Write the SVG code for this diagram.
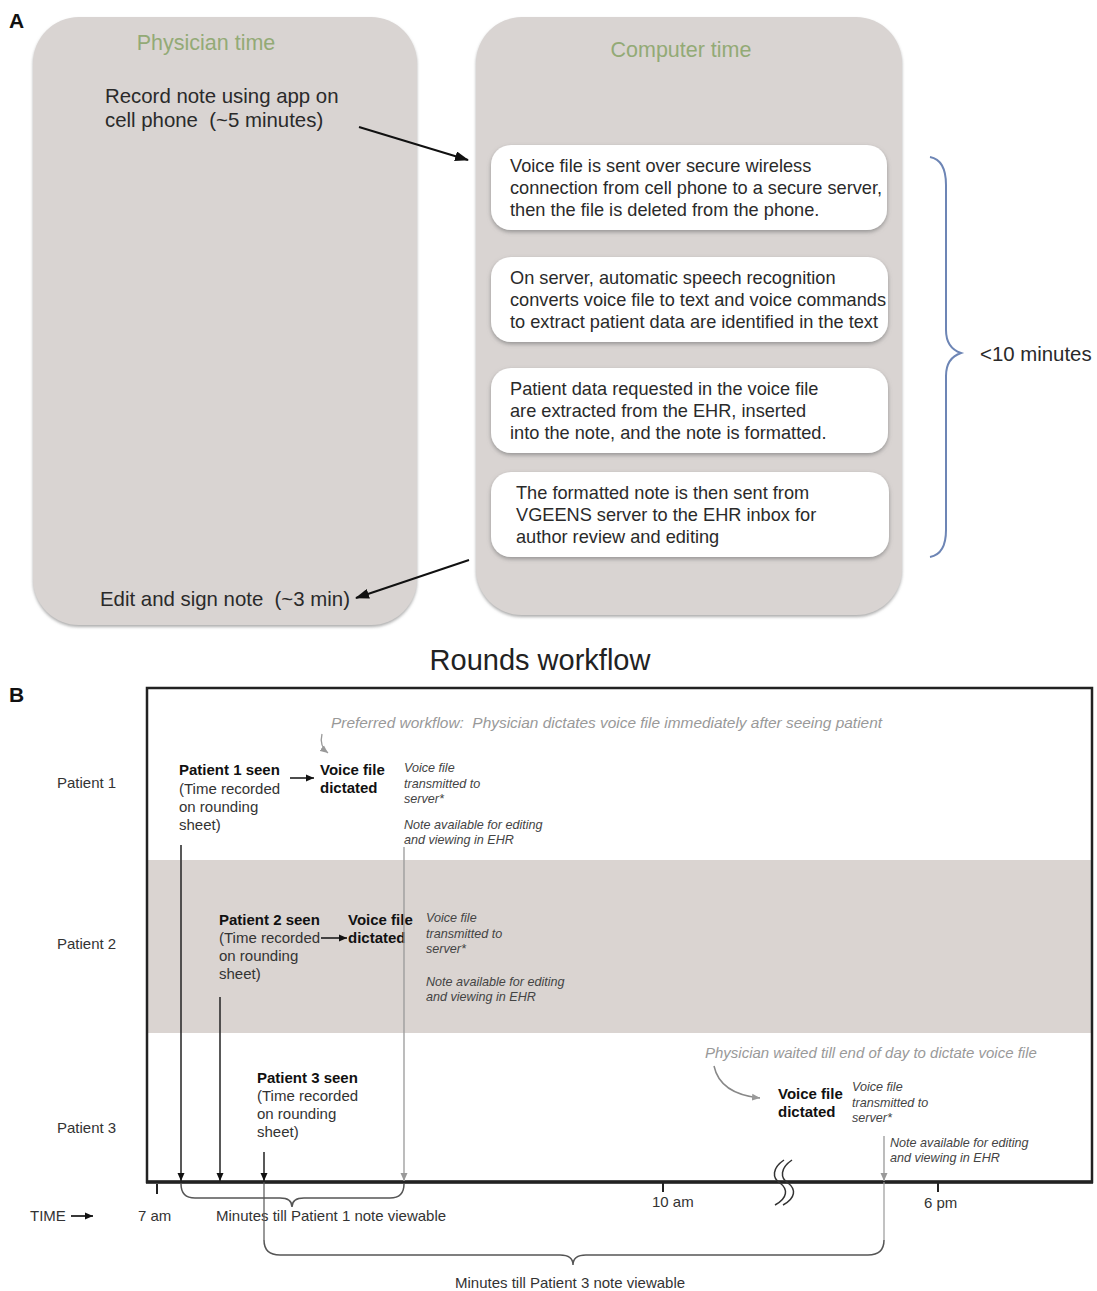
<svg xmlns="http://www.w3.org/2000/svg" width="1097" height="1291" viewBox="0 0 1097 1291">
<style>
text{font-family:"Liberation Sans",Arial,sans-serif;fill:#222}
.big{font-size:20.4px;fill:#2a2a2a}
.box{font-size:18.2px;fill:#2a2a2a}
.hdr{font-size:21.5px;fill:#93aa76}
.lbl{font-size:15px;fill:#333}
.b{font-size:15px;font-weight:bold;fill:#111}
.r{font-size:15px;fill:#333}
.sm{font-size:12.6px;font-style:italic;fill:#444}
.gi{font-size:15px;font-style:italic;fill:#999}
.panel{fill:#d9d4d2}
.wbox{fill:#fff}
</style>
<defs>
<filter id="sh" x="-10%" y="-10%" width="120%" height="130%">
<feDropShadow dx="0" dy="2" stdDeviation="2" flood-color="#777" flood-opacity="0.7"/>
</filter>
<filter id="psh" x="-10%" y="-10%" width="120%" height="120%">
<feDropShadow dx="0" dy="2" stdDeviation="1.5" flood-color="#999" flood-opacity="0.8"/>
</filter>
<marker id="ab" markerUnits="userSpaceOnUse" markerWidth="14" markerHeight="10" refX="13" refY="5" orient="auto">
<path d="M0,0 L14,5 L0,10 Z" fill="#111"/>
</marker>
<marker id="abs" markerUnits="userSpaceOnUse" markerWidth="8" markerHeight="8" refX="8" refY="4" orient="auto">
<path d="M0,0.5 L8,4 L0,7.5 Z" fill="#111"/>
</marker>
<marker id="ag" markerUnits="userSpaceOnUse" markerWidth="8" markerHeight="8" refX="8" refY="4" orient="auto">
<path d="M0,0.5 L8,4 L0,7.5 Z" fill="#999"/>
</marker>
</defs>
<rect width="1097" height="1291" fill="#fff"/>

<!-- Panel A -->
<text x="9" y="28" style="font-size:21px;font-weight:bold;fill:#111">A</text>
<g id="physician-panel">
<rect class="panel" x="33" y="17" width="384" height="608" rx="46" filter="url(#psh)"/>
<text class="hdr" x="206" y="50" text-anchor="middle">Physician time</text>
</g>
<g id="record-note">
<text class="big" x="105" y="103" xml:space="preserve">Record note using app on</text>
<text class="big" x="105" y="127" xml:space="preserve">cell phone  (~5 minutes)</text>
</g>
<g id="edit-note">
<text class="big" x="100" y="606" xml:space="preserve">Edit and sign note  (~3 min)</text>
</g>
<g id="computer-panel">
<rect class="panel" x="476" y="17" width="426" height="598" rx="46" filter="url(#psh)"/>
<text class="hdr" x="681" y="57" text-anchor="middle">Computer time</text>
</g>
<g id="step1">
<rect class="wbox" x="491" y="145" width="396" height="85" rx="20" filter="url(#sh)"/>
<text class="box" x="510" y="172">Voice file is sent over secure wireless</text>
<text class="box" x="510" y="194">connection from cell phone to a secure server,</text>
<text class="box" x="510" y="216">then the file is deleted from the phone.</text>
</g>
<g id="step2">
<rect class="wbox" x="491" y="257" width="397" height="85" rx="20" filter="url(#sh)"/>
<text class="box" x="510" y="284">On server, automatic speech recognition</text>
<text class="box" x="510" y="306">converts voice file to text and voice commands</text>
<text class="box" x="510" y="328">to extract patient data are identified in the text</text>
</g>
<g id="step3">
<rect class="wbox" x="491" y="368" width="397" height="85" rx="20" filter="url(#sh)"/>
<text class="box" x="510" y="395">Patient data requested in the voice file</text>
<text class="box" x="510" y="417">are extracted from the EHR, inserted</text>
<text class="box" x="510" y="439">into the note, and the note is formatted.</text>
</g>
<g id="step4">
<rect class="wbox" x="491" y="472" width="398" height="85" rx="20" filter="url(#sh)"/>
<text class="box" x="516" y="499">The formatted note is then sent from</text>
<text class="box" x="516" y="521">VGEENS server to the EHR inbox for</text>
<text class="box" x="516" y="543">author review and editing</text>
</g>
<g id="ten-minutes">
<path d="M930,157 Q946,160 946,185 L946,330 Q946,348 961,353 Q946,358 946,376 L946,530 Q946,554 930,557" fill="none" stroke="#6d85b5" stroke-width="2"/>
<text class="big" x="980" y="361">&lt;10 minutes</text>
</g>

<!-- Panel B -->
<text x="540" y="670" text-anchor="middle" style="font-size:29px;fill:#222">Rounds workflow</text>
<text x="9" y="702" style="font-size:21px;font-weight:bold;fill:#111">B</text>
<g id="frame">
<rect x="147" y="860" width="945" height="173" fill="#dad4d1"/>
<rect x="147" y="688" width="945" height="494" fill="none" stroke="#222" stroke-width="2.5"/>
<line x1="146" y1="1182" x2="1093" y2="1182" stroke="#222" stroke-width="3.5"/>
</g>
<g id="row-labels">
<text class="lbl" x="57" y="788">Patient 1</text>
<text class="lbl" x="57" y="949">Patient 2</text>
<text class="lbl" x="57" y="1133">Patient 3</text>
</g>
<g id="preferred-note">
<text class="gi" x="331" y="728" textLength="551" lengthAdjust="spacingAndGlyphs" xml:space="preserve">Preferred workflow:  Physician dictates voice file immediately after seeing patient</text>
</g>
<g id="p1-seen">
<text class="b" x="179" y="775">Patient 1 seen</text>
<text class="r" x="179" y="794">(Time recorded</text>
<text class="r" x="179" y="812">on rounding</text>
<text class="r" x="179" y="830">sheet)</text>
</g>
<g id="p1-dictated">
<text class="b" x="320" y="775">Voice file</text>
<text class="b" x="320" y="793">dictated</text>
</g>
<g id="p1-server">
<text class="sm" x="404" y="772">Voice file</text>
<text class="sm" x="404" y="788">transmitted to</text>
<text class="sm" x="404" y="803">server*</text>
<text class="sm" x="404" y="829">Note available for editing</text>
<text class="sm" x="404" y="844">and viewing in EHR</text>
</g>
<g id="p2-seen">
<text class="b" x="219" y="925">Patient 2 seen</text>
<text class="r" x="219" y="943">(Time recorded</text>
<text class="r" x="219" y="961">on rounding</text>
<text class="r" x="219" y="979">sheet)</text>
</g>
<g id="p2-dictated">
<text class="b" x="348" y="925">Voice file</text>
<text class="b" x="348" y="943">dictated</text>
</g>
<g id="p2-server">
<text class="sm" x="426" y="922">Voice file</text>
<text class="sm" x="426" y="938">transmitted to</text>
<text class="sm" x="426" y="953">server*</text>
<text class="sm" x="426" y="986">Note available for editing</text>
<text class="sm" x="426" y="1001">and viewing in EHR</text>
</g>
<g id="p3-seen">
<text class="b" x="257" y="1083">Patient 3 seen</text>
<text class="r" x="257" y="1101">(Time recorded</text>
<text class="r" x="257" y="1119">on rounding</text>
<text class="r" x="257" y="1137">sheet)</text>
</g>
<g id="waited-note">
<text class="gi" x="705" y="1058">Physician waited till end of day to dictate voice file</text>
</g>
<g id="p3-dictated">
<text class="b" x="778" y="1099">Voice file</text>
<text class="b" x="778" y="1117">dictated</text>
</g>
<g id="p3-server">
<text class="sm" x="852" y="1091">Voice file</text>
<text class="sm" x="852" y="1107">transmitted to</text>
<text class="sm" x="852" y="1122">server*</text>
<text class="sm" x="890" y="1147">Note available for editing</text>
<text class="sm" x="890" y="1162">and viewing in EHR</text>
</g>
<g id="axis">
<line x1="157" y1="1184" x2="157" y2="1194" stroke="#222" stroke-width="2"/>
<line x1="663" y1="1182" x2="663" y2="1192" stroke="#222" stroke-width="2"/>
<line x1="938" y1="1182" x2="938" y2="1192" stroke="#222" stroke-width="2"/>
<text class="r" x="30" y="1221">TIME</text>
<line x1="71" y1="1216" x2="93" y2="1216" stroke="#222" stroke-width="1.8" marker-end="url(#abs)"/>
<text class="r" x="138" y="1221">7 am</text>
<text class="r" x="652" y="1207">10 am</text>
<text class="r" x="924" y="1208">6 pm</text>
<path d="M784,1160 C772,1168 772,1178 780,1183 C788,1189 788,1198 775,1205" fill="none" stroke="#333" stroke-width="1.5"/>
<path d="M792,1160 C780,1168 780,1178 788,1183 C796,1189 796,1198 783,1205" fill="none" stroke="#333" stroke-width="1.5"/>
</g>
<g id="brace-p1">
<path d="M181,1184 Q181,1198 195,1198 L280,1198 Q292,1198 292,1207 Q292,1198 304,1198 L390,1198 Q404,1198 404,1184" fill="none" stroke="#555" stroke-width="1.5"/>
<text class="r" x="216" y="1221">Minutes till Patient 1 note viewable</text>
</g>
<g id="brace-p3">
<path d="M264,1240 Q264,1255 280,1255 L560,1255 Q573,1255 573,1265 Q573,1255 586,1255 L868,1255 Q884,1255 884,1240" fill="none" stroke="#555" stroke-width="1.5"/>
<text class="r" x="455" y="1288">Minutes till Patient 3 note viewable</text>
</g>

<!-- connectors -->
<g id="connectors" fill="none">
<line x1="359" y1="127" x2="468" y2="160" stroke="#111" stroke-width="2" marker-end="url(#ab)"/>
<line x1="469" y1="560" x2="356" y2="598" stroke="#111" stroke-width="2" marker-end="url(#ab)"/>
<path d="M322,734 Q319,746 328,753" stroke="#999" stroke-width="1.3" marker-end="url(#ag)"/>
<line x1="290" y1="778" x2="314" y2="778" stroke="#111" stroke-width="1.5" marker-end="url(#abs)"/>
<path d="M321,938 L347,938" stroke="#111" stroke-width="1.5" marker-end="url(#abs)"/>
<path d="M714,1066 Q720,1094 760,1098" stroke="#888" stroke-width="1.5" marker-end="url(#ag)"/>
<line x1="181" y1="845" x2="181" y2="1181" stroke="#222" stroke-width="1.5" marker-end="url(#abs)"/>
<line x1="220" y1="997" x2="220" y2="1181" stroke="#222" stroke-width="1.5" marker-end="url(#abs)"/>
<line x1="264" y1="1152" x2="264" y2="1181" stroke="#222" stroke-width="1.5" marker-end="url(#abs)"/>
<line x1="264" y1="1182" x2="264" y2="1240" stroke="#555" stroke-width="1.2"/>
<line x1="404" y1="847" x2="404" y2="1181" stroke="#999" stroke-width="1.3" marker-end="url(#ag)"/>
<line x1="884" y1="1136" x2="884" y2="1181" stroke="#999" stroke-width="1.3" marker-end="url(#ag)"/>
<line x1="884" y1="1182" x2="884" y2="1240" stroke="#999" stroke-width="1.2"/>
</g>
</svg>
